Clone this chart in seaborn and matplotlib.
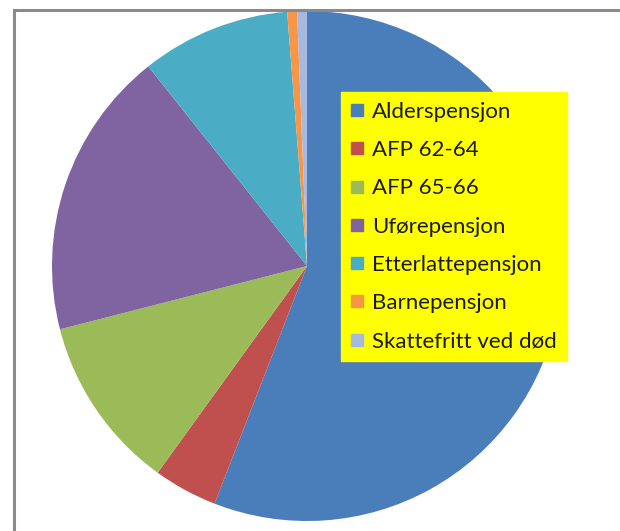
import matplotlib
matplotlib.use("Agg")
import matplotlib.pyplot as plt
import seaborn as sns
from matplotlib.lines import Line2D
from matplotlib.patches import Rectangle

# data (percent shares)
labels = ["Alderspensjon", "AFP 62-64", "AFP 65-66", "Uførepensjon",
          "Etterlattepensjon", "Barnepensjon", "Skattefritt ved død"]
shares = [55.9, 4.05, 11.05, 18.3, 9.45, 0.62, 0.62]
colors = ["#4A7EBB", "#C0504D", "#9BBB59", "#8064A2", "#4BACC6", "#F79646", "#A7B9E0"]

sns.set_theme(style="white")
plt.rcParams["font.family"] = ["Lato", "DejaVu Sans"]

W, H = 620, 531
fig = plt.figure(figsize=(W / 100, H / 100), dpi=100)
fig.patch.set_facecolor("white")

# pie axes: centre (307, 266) px from top-left, radius 255 px
cx, cy, r = 307, 266, 255
ax = fig.add_axes([(cx - r) / W, (H - cy - r) / H, 2 * r / W, 2 * r / H])
ax.pie(shares, colors=sns.color_palette(colors), startangle=90, counterclock=False,
       wedgeprops=dict(linewidth=0))
ax.set_xlim(-1, 1)
ax.set_ylim(-1, 1)
ax.set_aspect("equal")
ax.axis("off")

handles = [Line2D([], [], marker="s", linestyle="none", markersize=8,
                  markerfacecolor=c, markeredgecolor=c) for c in colors]
leg = fig.legend(handles, labels, loc="upper left",
                 bbox_to_anchor=(341 / W, 1 - 92 / H), frameon=True,
                 fontsize=16, handlelength=0.55, handletextpad=0.4,
                 labelspacing=0.82, borderpad=0.45, borderaxespad=0,
                 fancybox=False)
leg.get_frame().set_facecolor("#FFFF00")
leg.get_frame().set_edgecolor("#FFFF00")
leg.get_frame().set_alpha(1)
for t in leg.get_texts():
    t.set_color("#1a1a1a")

# outer grey frame (only left and top edges visible in the crop)
fig.add_artist(Rectangle((14 / W, -0.1), 1.2, 1 - 10 / H + 0.1,
                         transform=fig.transFigure, fill=False,
                         edgecolor="#8a8a8a", linewidth=2.2, zorder=10))

fig.savefig("out.png", dpi=100)
